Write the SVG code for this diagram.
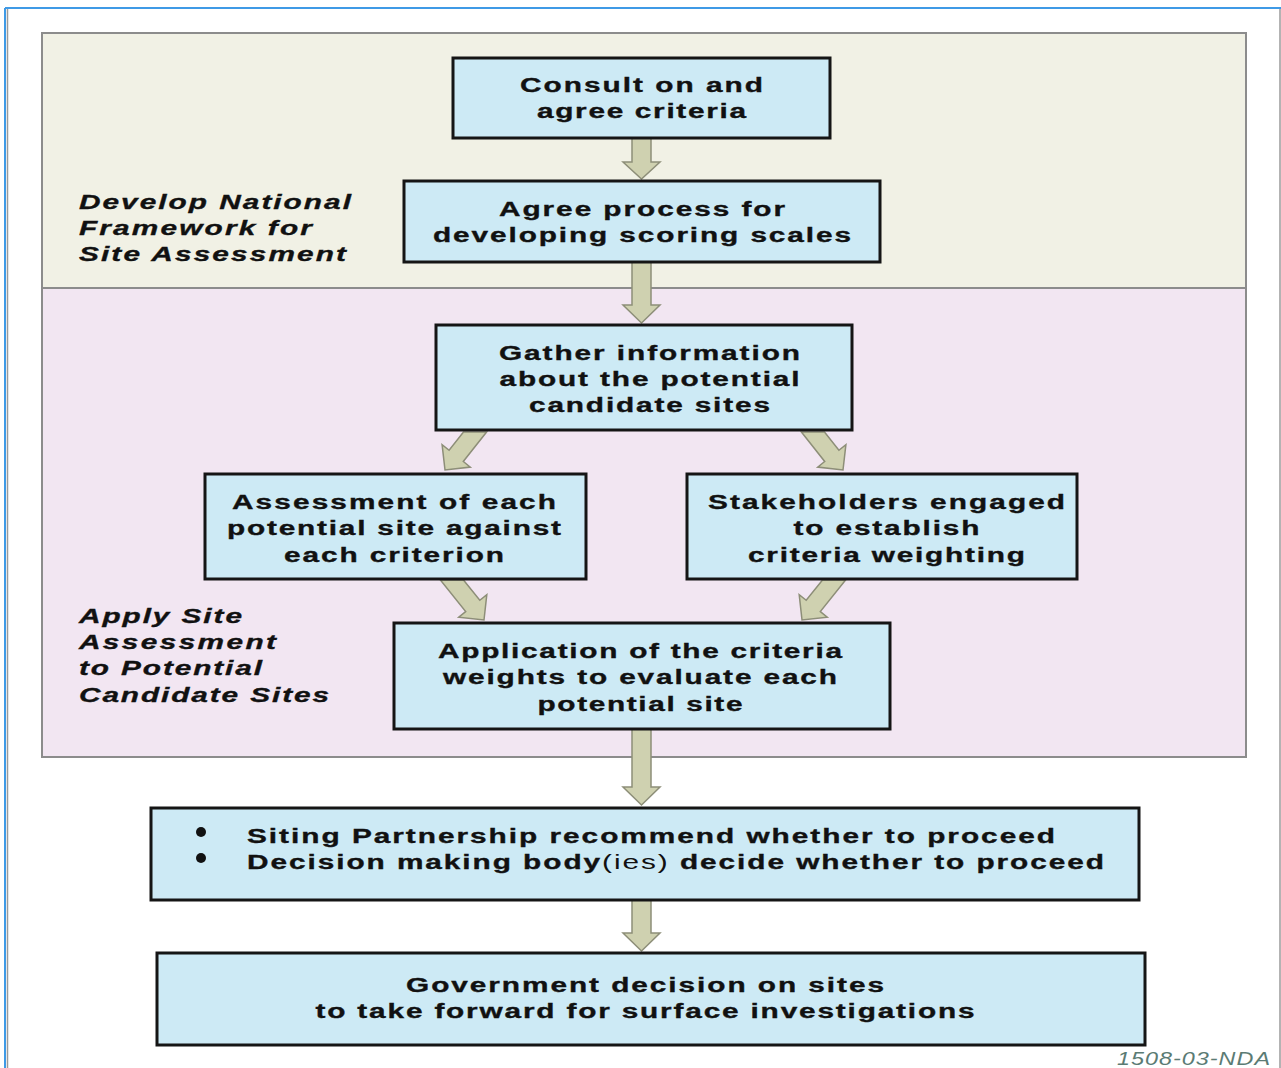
<svg xmlns="http://www.w3.org/2000/svg" width="1281" height="1068" viewBox="0 0 1281 1068">
<style>
.frame-blue{stroke:#3f9ae6;stroke-width:2;fill:none}
.frame-gray{stroke:#9a9a9a;stroke-width:1.5;fill:none}
.panel{stroke:#8c8c8c;stroke-width:2}
.box{fill:#cdeaf5;stroke:#151515;stroke-width:3}
.arrow{fill:#cfd1b0;stroke:#8d8e78;stroke-width:1.5;stroke-linejoin:miter}
.t{font-family:"Liberation Sans",Arial,Helvetica,sans-serif;font-weight:bold;font-size:21px;fill:#111;stroke:#111;stroke-width:0.35}
.c{text-anchor:middle}
.side{font-family:"Liberation Sans",Arial,Helvetica,sans-serif;font-weight:bold;font-style:italic;font-size:21px;fill:#111;stroke:#111;stroke-width:0.35}
.reg{font-weight:normal;stroke-width:0}
.note{font-family:"Liberation Sans",Arial,Helvetica,sans-serif;font-style:italic;font-size:18px;fill:#5b7b74}
</style>
<rect x="0" y="0" width="1281" height="1068" fill="#ffffff"/>
<g id="frame">
<line class="frame-blue" x1="5" y1="8" x2="1281" y2="8"/>
<line class="frame-blue" x1="5" y1="8" x2="5" y2="1068"/>
<line class="frame-gray" x1="7.5" y1="9" x2="7.5" y2="1068"/>
<line class="frame-gray" x1="1280" y1="9" x2="1280" y2="1068"/>
</g>
<g id="panel-framework">
<rect class="panel" x="42" y="33" width="1204" height="255" fill="#f1f1e5"/>
<g transform="translate(79,0) scale(1.42,1)">
<text class="side" x="0" y="209" textLength="191.5" lengthAdjust="spacing">Develop National</text>
<text class="side" x="0" y="235" textLength="164" lengthAdjust="spacing">Framework for</text>
<text class="side" x="0" y="261" textLength="188" lengthAdjust="spacing">Site Assessment</text>
</g>
</g>
<g id="panel-apply">
<rect class="panel" x="42" y="288" width="1204" height="469" fill="#f2e6f2"/>
<g transform="translate(79,0) scale(1.42,1)">
<text class="side" x="0" y="623" textLength="114.8" lengthAdjust="spacing">Apply Site</text>
<text class="side" x="0" y="649" textLength="138.7" lengthAdjust="spacing">Assessment</text>
<text class="side" x="0" y="675" textLength="128.9" lengthAdjust="spacing">to Potential</text>
<text class="side" x="0" y="702" textLength="176.1" lengthAdjust="spacing">Candidate Sites</text>
</g>
</g>
<g id="connectors">
<polygon class="arrow" points="632,138 651,138 651,162 660,162 641.5,179 623,162 632,162"/>
<polygon class="arrow" points="632,262 651,262 651,305 660,305 641.5,323 623,305 632,305"/>
<polygon class="arrow" points="486.6,432 463.3,461.5 470.3,467.1 445,470 442.1,444.7 449.1,450.3 463.5,432"/>
<polygon class="arrow" points="801.4,432 824.7,461.5 817.7,467.1 843,470 845.9,444.7 838.9,450.3 824.5,432"/>
<polygon class="arrow" points="440.4,580 463.5,580 479.8,600.3 486.8,594.7 484,620 458.7,617.2 465.7,611.6"/>
<polygon class="arrow" points="845.6,580 822.5,580 806.2,600.3 799.2,594.7 802,620 827.3,617.2 820.3,611.6"/>
<polygon class="arrow" points="632,729 651,729 651,787 660,787 641.5,805 623,787 632,787"/>
<polygon class="arrow" points="632,900 651,900 651,933 660,933 641.5,951 623,933 632,933"/>
</g>
<g id="node-consult">
<rect class="box" x="453" y="58" width="377" height="80"/>
<g transform="translate(641.5,0) scale(1.42,1)">
<text class="t c" x="0" y="92" textLength="171.1" lengthAdjust="spacing">Consult on and</text>
<text class="t c" x="0" y="118" textLength="147.2" lengthAdjust="spacing">agree criteria</text>
</g>
</g>
<g id="node-agree-process">
<rect class="box" x="404" y="181" width="476" height="81"/>
<g transform="translate(642,0) scale(1.42,1)">
<text class="t c" x="0" y="216" textLength="201.4" lengthAdjust="spacing">Agree process for</text>
<text class="t c" x="0" y="242" textLength="294.4" lengthAdjust="spacing">developing scoring scales</text>
</g>
</g>
<g id="node-gather">
<rect class="box" x="436" y="325" width="416" height="105"/>
<g transform="translate(649.5,0) scale(1.42,1)">
<text class="t c" x="0" y="360" textLength="212" lengthAdjust="spacing">Gather information</text>
<text class="t c" x="0" y="386" textLength="211.3" lengthAdjust="spacing">about the potential</text>
<text class="t c" x="0" y="412" textLength="169.7" lengthAdjust="spacing">candidate sites</text>
</g>
</g>
<g id="node-assessment">
<rect class="box" x="205" y="474" width="381" height="105"/>
<g transform="translate(394,0) scale(1.42,1)">
<text class="t c" x="0" y="509" textLength="228.2" lengthAdjust="spacing">Assessment of each</text>
<text class="t c" x="0" y="535" textLength="235.2" lengthAdjust="spacing">potential site against</text>
<text class="t c" x="0" y="562" textLength="154.9" lengthAdjust="spacing">each criterion</text>
</g>
</g>
<g id="node-stakeholders">
<rect class="box" x="687" y="474" width="390" height="105"/>
<g transform="translate(886.5,0) scale(1.42,1)">
<text class="t c" x="0" y="509" textLength="251.4" lengthAdjust="spacing">Stakeholders engaged</text>
<text class="t c" x="0" y="535" textLength="131" lengthAdjust="spacing">to establish</text>
<text class="t c" x="0" y="562" textLength="195.1" lengthAdjust="spacing">criteria weighting</text>
</g>
</g>
<g id="node-application">
<rect class="box" x="394" y="623" width="496" height="106"/>
<g transform="translate(640,0) scale(1.42,1)">
<text class="t c" x="0" y="658" textLength="284.5" lengthAdjust="spacing">Application of the criteria</text>
<text class="t c" x="0" y="684" textLength="277.5" lengthAdjust="spacing">weights to evaluate each</text>
<text class="t c" x="0" y="711" textLength="144.4" lengthAdjust="spacing">potential site</text>
</g>
</g>
<g id="node-decision">
<rect class="box" x="151" y="808" width="988" height="92"/>
<circle cx="201" cy="832" r="5" fill="#111"/>
<circle cx="201" cy="858" r="5" fill="#111"/>
<g transform="translate(247,0) scale(1.42,1)">
<text class="t" x="0" y="843" textLength="569" lengthAdjust="spacing">Siting Partnership recommend whether to proceed</text>
<text class="t" x="0" y="869" textLength="603.5" lengthAdjust="spacing">Decision making body<tspan class="reg">(ies)</tspan> decide whether to proceed</text>
</g>
</g>
<g id="node-government">
<rect class="box" x="157" y="953" width="988" height="92"/>
<g transform="translate(645,0) scale(1.42,1)">
<text class="t c" x="0" y="992" textLength="336.6" lengthAdjust="spacing">Government decision on sites</text>
<text class="t c" x="0" y="1018" textLength="464.1" lengthAdjust="spacing">to take forward for surface investigations</text>
</g>
</g>
<g transform="translate(1117,0) scale(1.3,1)">
<text class="note" x="0" y="1065" textLength="117.7" lengthAdjust="spacing">1508-03-NDA</text>
</g>
</svg>
